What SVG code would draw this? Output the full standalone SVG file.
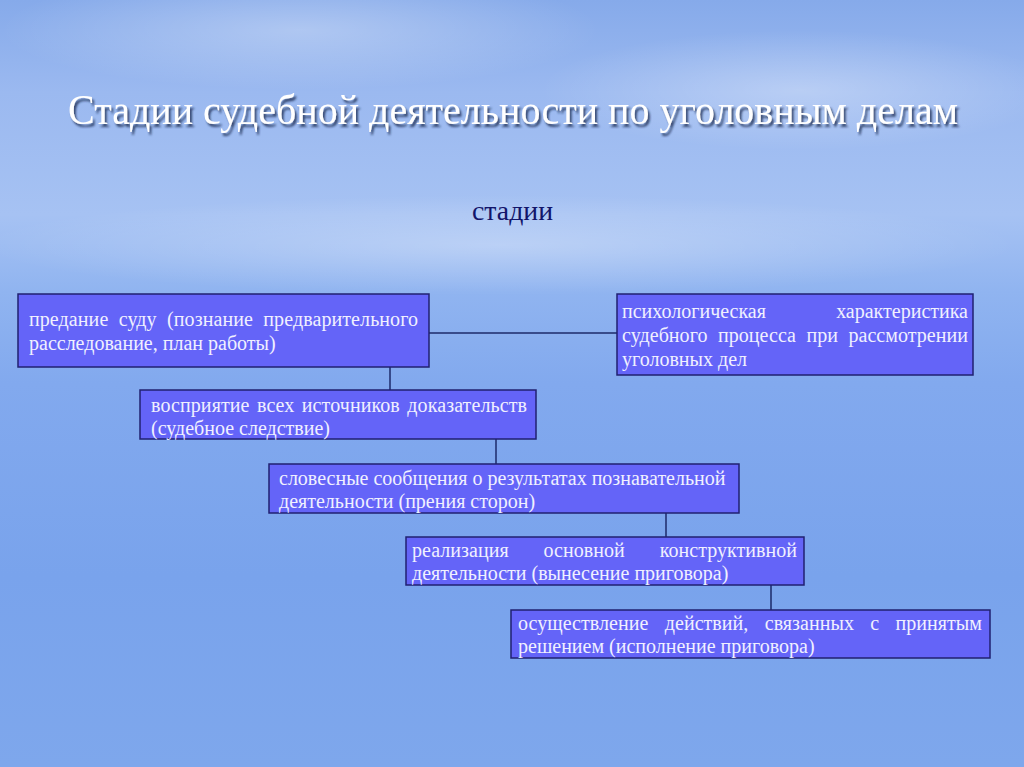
<svg xmlns="http://www.w3.org/2000/svg" width="1024" height="767" viewBox="0 0 1024 767">
<defs>
<linearGradient id="sky" x1="0" y1="0" x2="0" y2="1">
<stop offset="0" stop-color="#86aaea"/>
<stop offset="0.12" stop-color="#9bb9f0"/>
<stop offset="0.28" stop-color="#a6c2f3"/>
<stop offset="0.38" stop-color="#90b4f0"/>
<stop offset="0.5" stop-color="#82a9ee"/>
<stop offset="0.75" stop-color="#79a3ec"/>
<stop offset="1" stop-color="#7ea7ec"/>
</linearGradient>
<radialGradient id="glow" cx="0.02" cy="0.42" r="0.35">
<stop offset="0" stop-color="#ffffff" stop-opacity="0.95"/>
<stop offset="0.35" stop-color="#e6efff" stop-opacity="0.5"/>
<stop offset="1" stop-color="#ffffff" stop-opacity="0"/>
</radialGradient>
<radialGradient id="cloud" cx="0.5" cy="0.5" r="0.5">
<stop offset="0" stop-color="#ffffff" stop-opacity="0.3"/>
<stop offset="1" stop-color="#ffffff" stop-opacity="0"/>
</radialGradient>
<filter id="shadow" x="-5%" y="-20%" width="110%" height="150%">
<feGaussianBlur in="SourceAlpha" stdDeviation="1"/>
<feOffset dx="2" dy="3" result="o"/>
<feFlood flood-color="#1a2a50" flood-opacity="0.8"/>
<feComposite in2="o" operator="in"/>
<feMerge><feMergeNode/><feMergeNode in="SourceGraphic"/></feMerge>
</filter>
<style>
.box{fill:#6464f8;stroke:#202070;stroke-width:1.5}
.t{font-family:"Liberation Serif","Times New Roman",serif;font-size:20px;fill:#f0f0ff}
.e{text-anchor:end}
.con{stroke:#1c2a6a;stroke-width:1.5;fill:none}
</style>
</defs>
<rect width="1024" height="767" fill="url(#sky)"/>
<ellipse cx="30" cy="290" rx="380" ry="150" fill="url(#glow)"/>
<ellipse cx="300" cy="30" rx="300" ry="60" fill="url(#cloud)"/>
<ellipse cx="800" cy="90" rx="260" ry="60" fill="url(#cloud)"/>
<ellipse cx="500" cy="245" rx="520" ry="50" fill="url(#cloud)"/>

<text x="68" y="124" font-family="'Liberation Serif','Times New Roman',serif" font-size="42" fill="#ffffff" textLength="890" lengthAdjust="spacingAndGlyphs" filter="url(#shadow)">Стадии судебной деятельности по уголовным делам</text>
<text x="472" y="220" font-family="'Liberation Serif','Times New Roman',serif" font-size="28" fill="#12146a" textLength="81" lengthAdjust="spacingAndGlyphs">стадии</text>

<g id="connectors">
<line class="con" x1="429" y1="333" x2="617" y2="333"/>
<line class="con" x1="390" y1="367" x2="390" y2="390"/>
<line class="con" x1="496" y1="439" x2="496" y2="464"/>
<line class="con" x1="666" y1="513" x2="666" y2="537"/>
<line class="con" x1="771" y1="585" x2="771" y2="610"/>
</g>

<g id="n1">
<rect class="box" x="18" y="294" width="411" height="73"/>
<text class="t" x="29" y="326" word-spacing="5.3" textLength="389" lengthAdjust="spacing">предание суду (познание предварительного</text>
<text class="t" x="29" y="350">расследование, план работы)</text>
</g>
<g id="n2">
<rect class="box" x="617" y="294" width="356" height="81"/>
<text class="t" x="622" y="318">психологическая</text>
<text class="t e" x="968" y="318">характеристика</text>
<text class="t" x="622" y="342" word-spacing="5.4" textLength="346" lengthAdjust="spacing">судебного процесса при рассмотрении</text>
<text class="t" x="622" y="366">уголовных дел</text>
</g>
<g id="n3">
<rect class="box" x="140" y="390" width="396" height="49"/>
<text class="t" x="151" y="412" word-spacing="2.3" textLength="376" lengthAdjust="spacing">восприятие всех источников доказательств</text>
<text class="t" x="151" y="435">(судебное следствие)</text>
</g>
<g id="n4">
<rect class="box" x="269" y="464" width="470" height="49"/>
<text class="t" x="279" y="485">словесные сообщения о результатах познавательной</text>
<text class="t" x="279" y="508">деятельности (прения сторон)</text>
</g>
<g id="n5">
<rect class="box" x="406" y="537" width="398" height="48"/>
<text class="t" x="412" y="557" word-spacing="29.9" textLength="385" lengthAdjust="spacing">реализация основной конструктивной</text>
<text class="t" x="412" y="580">деятельности (вынесение приговора)</text>
</g>
<g id="n6">
<rect class="box" x="511" y="610" width="479" height="48"/>
<text class="t" x="518" y="630" word-spacing="11.3" textLength="464" lengthAdjust="spacing">осуществление действий, связанных с принятым</text>
<text class="t" x="518" y="653">решением (исполнение приговора)</text>
</g>
</svg>
